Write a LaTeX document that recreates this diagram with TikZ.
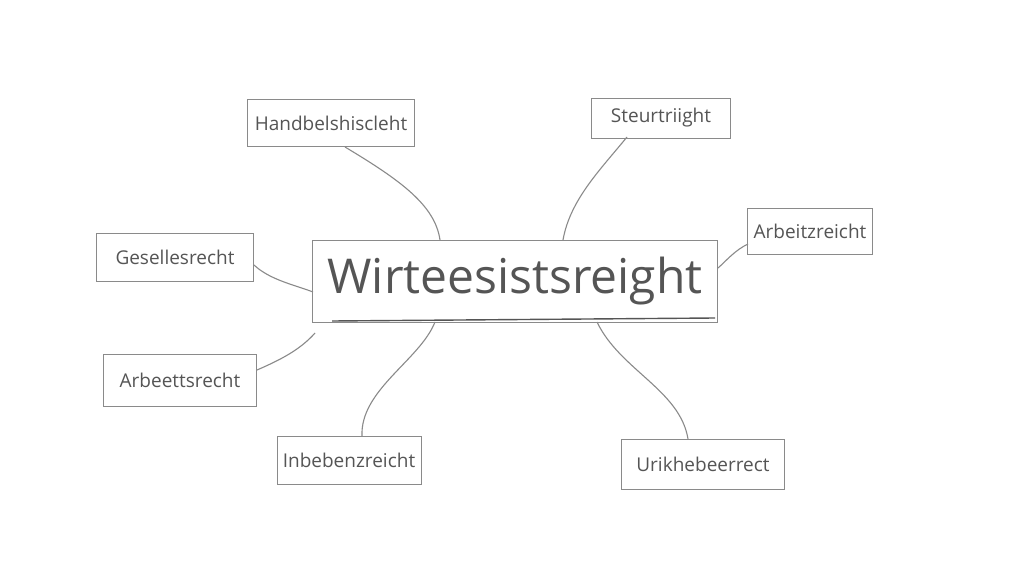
\documentclass[tikz,border=0pt]{standalone}
\usepackage{fontspec}
\setmainfont{Open Sans}
\definecolor{ink}{HTML}{555555}
\definecolor{frame}{HTML}{8A8A8A}
\begin{document}
\begin{tikzpicture}[x=1pt,y=-1pt,
  leaf/.style={draw=frame,line width=0.9pt,text=ink,inner sep=0pt,font=\fontsize{19}{21}\selectfont,rectangle},
  hub/.style={draw=frame,line width=1pt,text=ink,inner sep=0pt,font=\fontsize{48}{50}\selectfont,rectangle},
  link/.style={draw=frame,line width=1.1pt}]
\useasboundingbox (0,0) rectangle (1024,585);
\fill[white] (0,0) rectangle (1024,585);
\node[hub,minimum width=405pt,minimum height=82pt] (c) at (515,281) {Wirteesistsreight};
\draw[ink,line width=1.4pt] (332,321) -- (715,318);
\node[leaf,minimum width=167pt,minimum height=47pt] (hb) at (331,123) {Handbelshiscleht};
\node[leaf,minimum width=139pt,minimum height=40pt] (st) at (661,118) {Steurtriight};
\node[leaf,minimum width=157pt,minimum height=48pt] (gs) at (175,257) {Gesellesrecht};
\node[leaf,minimum width=125pt,minimum height=46pt] (az) at (810,231) {Arbeitzreicht};
\node[leaf,minimum width=153pt,minimum height=52pt] (ar) at (180,380) {Arbeettsrecht};
\node[leaf,minimum width=144pt,minimum height=48pt] (ib) at (349,460) {Inbebenzreicht};
\node[leaf,minimum width=163pt,minimum height=50pt] (uk) at (703,464) {Urikhebeerrect};
\coordinate (hbA) at (345,147);
\coordinate (cA) at (440,240);
\coordinate (stA) at (627,137);
\coordinate (cB) at (563,240);
\coordinate (gsA) at (254,265);
\coordinate (cC) at (313,292);
\coordinate (azA) at (748,244);
\coordinate (cD) at (718,268);
\coordinate (arA) at (257,370);
\coordinate (cE) at (315,333);
\coordinate (ibA) at (362,436);
\coordinate (cF) at (435,322);
\coordinate (ukA) at (688,439);
\coordinate (cG) at (597,322);
\draw[link] (hbA) .. controls (400,180) and (435,205) .. (cA);
\draw[link] (stA) .. controls (600,170) and (570,200) .. (cB);
\draw[link] (gsA) .. controls (270,280) and (295,285) .. (cC);
\draw[link] (azA) .. controls (735,250) and (725,262) .. (cD);
\draw[link] (arA) .. controls (280,360) and (300,350) .. (cE);
\draw[link] (ibA) .. controls (360,390) and (420,360) .. (cF);
\draw[link] (ukA) .. controls (680,390) and (620,370) .. (cG);
\end{tikzpicture}
\end{document}
